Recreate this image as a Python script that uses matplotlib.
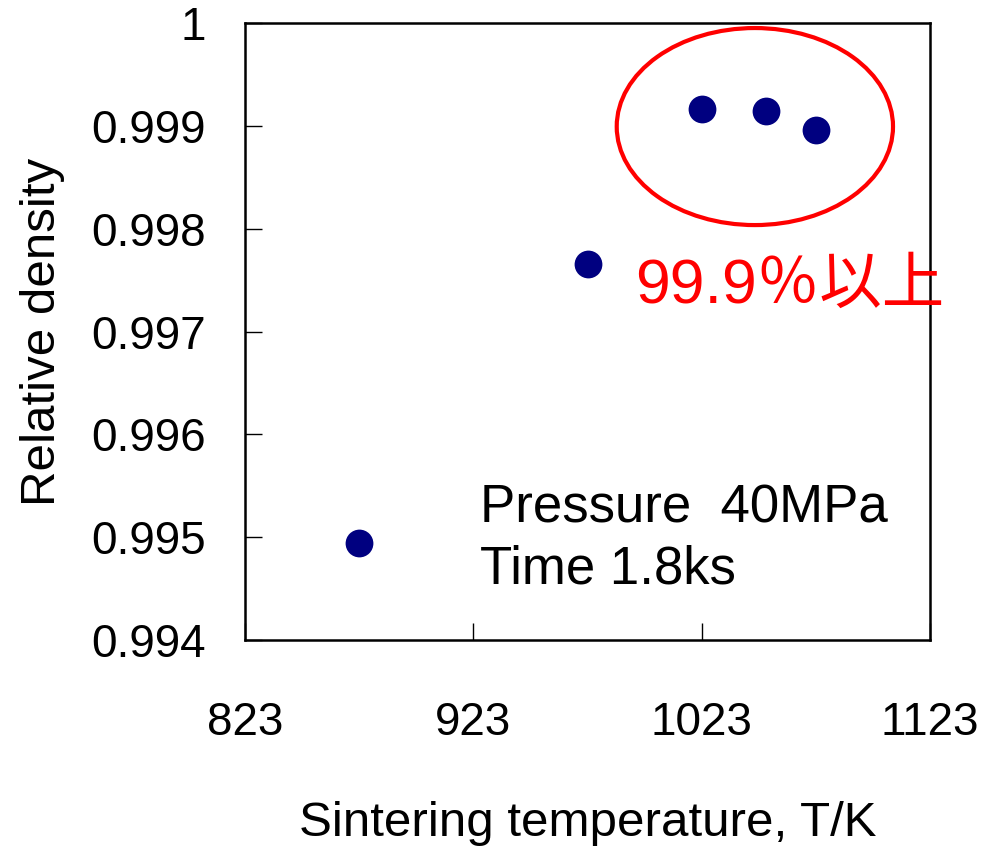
import matplotlib
matplotlib.use("Agg")
import matplotlib.pyplot as plt
from matplotlib.patches import Ellipse

temps = [873, 973, 1023, 1051, 1073]
density = [0.99494, 0.99766, 0.999165, 0.999146, 0.998962]
xticks = [823, 923, 1023, 1123]
yticks = [0.994, 0.995, 0.996, 0.997, 0.998, 0.999, 1.0]
ytick_labels = ["0.994", "0.995", "0.996", "0.997", "0.998", "0.999", "1"]

plt.rcParams['font.family'] = ['Liberation Sans', 'Noto Sans CJK JP', 'DejaVu Sans']

fig = plt.figure(figsize=(9.85, 8.46), dpi=100)
ax = fig.add_axes([245/985, 1-640/846, (930-245)/985, (640-23)/846])

ax.plot(temps, density, 'o', color='#000080', markersize=20, markeredgewidth=0, clip_on=False)

ax.set_xlim(823, 1123)
ax.set_ylim(0.994, 1.0)
ax.set_xticks(xticks)
ax.set_xticklabels([str(t) for t in xticks])
ax.set_yticks(yticks)
ax.set_yticklabels(ytick_labels)
ax.tick_params(direction='in', length=12, width=1, labelsize=33, colors='black')
ax.tick_params(axis='x', pad=44)
ax.tick_params(axis='y', pad=28)
for s in ax.spines.values():
    s.set_linewidth(1.8)

ax.set_xlabel("Sintering temperature, T/K", fontsize=35.5, labelpad=40)
ax.set_ylabel("Relative density", fontsize=35.5, labelpad=19)

ell = Ellipse((1046.3, 0.998993), 121, 0.001916, fill=False, edgecolor='#ff0000', linewidth=3, clip_on=False)
ax.add_patch(ell)

ax.text(993.8, 0.997277, "99.9％以上", color='#ff0000', fontsize=45, ha='left', va='baseline')
ax.text(925.9, 0.995147, "Pressure  40MPa", fontsize=38, ha='left', va='baseline')
ax.text(925.9, 0.994554, "Time 1.8ks", fontsize=38, ha='left', va='baseline')

fig.savefig("out.png", dpi=100)
